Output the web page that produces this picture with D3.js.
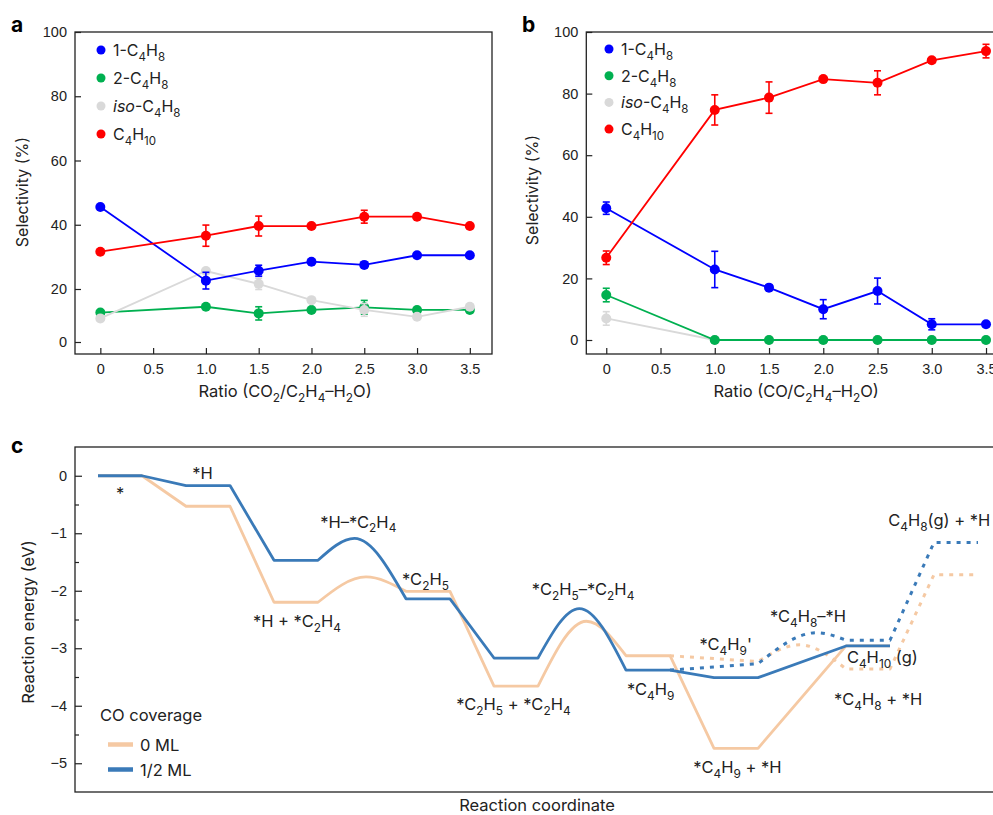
<!doctype html>
<html lang="en">
<head>
<meta charset="utf-8">
<title>Butene / butane selectivity and reaction energy</title>
<script src="https://cdn.jsdelivr.net/npm/d3@7"></script>
<style>
  body { margin: 0; background: #fff; }
  svg { display: block; font-family: Inter, "Liberation Sans", Arial, sans-serif; }
</style>
</head>
<body>
<div id="fig"></div>
<script>
// ---- data: panels a and b (selectivity, %) ----
var ratios = [0, 1.0, 1.5, 2.0, 2.5, 3.0, 3.5];
var ratioTicks = [0, 0.5, 1.0, 1.5, 2.0, 2.5, 3.0, 3.5];
var selTicks = [0, 20, 40, 60, 80, 100];
var seriesNames = ["1-C_4H_8", "2-C_4H_8", "<i>iso</i>-C_4H_8", "C_4H_10"];
var seriesColors = ["#0000ff", "#00b050", "#d9d9d9", "#ff0000"];

// a: CO2 / C2H4-H2O
var aButene1 = [45.5, 22.6, 25.7, 28.5, 27.5, 30.5, 30.5];
var aButene1Err = [0.5, 2.6, 1.7, 0.5, 0.8, 0.5, 0.5];
var aButene2 = [11.1, 13.3, 10.8, 12.1, 13.1, 12.1, 12.1];
var aButene2Err = [0.5, 0.5, 2.5, 0.5, 2.6, 0.5, 0.5];
var aIso = [8.9, 25.6, 21.6, 15.8, 12.1, 9.5, 13.3];
var aIsoErr = [1.1, 0.5, 1.8, 0.5, 2.4, 0.5, 0.5];
var aButane = [31.6, 36.6, 39.6, 39.6, 42.5, 42.5, 39.6];
var aButaneErr = [0.5, 3.3, 3.1, 0.5, 2.0, 0.5, 0.5];

// b: CO / C2H4-H2O
var bButene1 = [42.8, 22.9, 17.0, 10.0, 15.9, 5.1, 5.1];
var bButene1Err = [2.0, 5.9, 0.8, 3.1, 4.2, 1.8, 0.5];
var bButene2 = [14.6, 0, 0, 0, 0, 0, 0];
var bButene2Err = [2.2, 0, 0, 0, 0, 0, 0];
var bIso = [7.0, 0, 0, 0, 0, 0, 0];
var bIsoErr = [2.2, 0, 0, 0, 0, 0, 0];
var bButane = [26.7, 74.7, 78.7, 84.7, 83.5, 90.8, 93.8];
var bButaneErr = [2.2, 4.9, 5.1, 0.6, 3.9, 0.8, 2.2];

// ---- data: panel c (reaction energy, eV, vs reaction coordinate) ----
var rcZero = [0, 1, 2, 3, 4, 5, 6.09, 7, 8, 9, 10, 11.1, 12, 13, 14, 15, 17, 18];
var eZero = [0, 0, -0.53, -0.53, -2.2, -2.2, -1.76, -2.01, -2.01, -3.66, -3.66, -2.53, -3.13, -3.13, -4.74, -4.74, -2.96, -2.96];
var tsZero = [6, 11];
var rcZeroAlt = [13, 15, 15.95, 17, 18, 19, 20];
var eZeroAlt = [-3.13, -3.23, -2.94, -3.36, -3.36, -1.72, -1.72];
var tsZeroAlt = [2];

var rcHalf = [0, 1, 2, 3, 4, 5, 5.83, 7, 8, 9, 10, 10.94, 12, 13, 14, 15, 17, 18];
var eHalf = [0, 0, -0.17, -0.17, -1.47, -1.47, -1.09, -2.14, -2.14, -3.17, -3.17, -2.31, -3.38, -3.38, -3.51, -3.51, -2.96, -2.96];
var tsHalf = [6, 11];
var rcHalfAlt = [13, 15, 16.33, 17, 18, 19, 20];
var eHalfAlt = [-3.38, -3.27, -2.73, -2.86, -2.86, -1.16, -1.16];
var tsHalfAlt = [2];

var energyTicks = [0, -1, -2, -3, -4, -5];
var energyMinor = [-0.5, -1.5, -2.5, -3.5, -4.5];

var stateNames = ["*", "*H", "*H–*C_2H_4", "*C_2H_5", "*H + *C_2H_4", "*C_2H_5–*C_2H_4",
  "C_4H_8(g) + *H", "*C_2H_5 + *C_2H_4", "*C_4H_9", "*C_4H_9'", "*C_4H_8–*H",
  "C_4H_10 (g)", "*C_4H_8 + *H", "*C_4H_9 + *H"];
var stateU = [0.41, 2.14, 5.05, 6.91, 3.52, 9.86, 17.96, 8.14, 12.02, 13.67, 15.27, 17.02, 16.73, 13.53];
var stateE = [-0.4, -0.05, -0.9, -1.9, -2.63, -2.07, -0.87, -4.07, -3.81, -3.03, -2.54, -3.25, -3.98, -5.17];

var coverageNames = ["0 ML", "1/2 ML"];
var coverageColors = ["#f5c9a3", "#3a7ab8"];

// ---- drawing ----
var W = 993, H = 815;
var svg = d3.select("#fig").append("svg").attr("width", W).attr("height", H);
var ink = "#222";

// text with _sub digits and <i>italic</i>
function rich(sel, str, size) {
  var parts = str.split(/(_\d+|<i>[^<]*<\/i>)/).filter(function(s) { return s.length; });
  var sub = false;
  parts.forEach(function(p) {
    if (p[0] === "_") {
      sel.append("tspan").attr("dy", size * 0.3).attr("font-size", size * 0.72).text(p.slice(1));
      sub = true;
    } else {
      var t = sel.append("tspan");
      if (sub) { t.attr("dy", -size * 0.3); sub = false; }
      if (p.indexOf("<i>") === 0) t.attr("font-style", "italic").text(p.slice(3, -4));
      else t.text(p);
    }
  });
  return sel;
}

function selectivityPanel(o) {
  var g = svg.append("g");
  var x = d3.scaleLinear().domain(o.xDomain).range([o.left, o.right]);
  var y = o.y;

  g.append("rect").attr("x", o.left).attr("y", o.top)
    .attr("width", o.right - o.left).attr("height", o.bottom - o.top)
    .attr("fill", "none").attr("stroke", ink).attr("stroke-width", 1.3);

  var xAxis = g.append("g").attr("transform", "translate(0," + o.bottom + ")")
    .call(d3.axisBottom(x).tickValues(ratioTicks).tickSize(-6).tickPadding(10)
      .tickFormat(function(d) { return d === 0 ? "0" : d3.format(".1f")(d); }));
  var yAxis = g.append("g").attr("transform", "translate(" + o.left + ",0)")
    .call(d3.axisLeft(y).tickValues(selTicks).tickSize(-6).tickPadding(8));
  [xAxis, yAxis].forEach(function(a) {
    a.select(".domain").remove();
    a.selectAll("line").attr("stroke", ink).attr("stroke-width", 1.2);
    a.selectAll("text").attr("font-size", 14.5).attr("fill", ink).attr("font-family", null);
  });

  var line = d3.line().x(function(d) { return x(d[0]); }).y(function(d) { return y(d[1]); });

  o.order.forEach(function(k) {
    var s = o.series[k];
    var pts = ratios.map(function(r, i) { return [r, s.values[i], s.err[i]]; });
    var c = seriesColors[k];
    g.append("path").datum(pts).attr("d", line)
      .attr("fill", "none").attr("stroke", c).attr("stroke-width", 1.8);
    var eb = g.append("g").selectAll("g").data(pts).enter().append("g")
      .attr("stroke", c).attr("stroke-width", 1.6);
    eb.append("line").attr("x1", function(d) { return x(d[0]); }).attr("x2", function(d) { return x(d[0]); })
      .attr("y1", function(d) { return y(d[1] - d[2]); }).attr("y2", function(d) { return y(d[1] + d[2]); });
    [-1, 1].forEach(function(sgn) {
      eb.append("line").attr("x1", function(d) { return x(d[0]) - 3.5; }).attr("x2", function(d) { return x(d[0]) + 3.5; })
        .attr("y1", function(d) { return y(d[1] + sgn * d[2]); }).attr("y2", function(d) { return y(d[1] + sgn * d[2]); });
    });
    g.append("g").selectAll("circle").data(pts).enter().append("circle")
      .attr("cx", function(d) { return x(d[0]); }).attr("cy", function(d) { return y(d[1]); })
      .attr("r", 5).attr("fill", c);
  });

  // legend
  seriesNames.forEach(function(n, i) {
    var cy = o.legY + i * o.legStep;
    g.append("circle").attr("cx", o.legX).attr("cy", cy).attr("r", 4.5).attr("fill", seriesColors[i]);
    rich(g.append("text").attr("x", o.legX + 12).attr("y", cy + 6).attr("font-size", 16).attr("fill", ink), n, 16);
  });

  rich(g.append("text").attr("x", (x(0) + x(3.5)) / 2 + o.titleShift).attr("y", 397)
    .attr("text-anchor", "middle").attr("font-size", 16.5).attr("fill", ink), o.xTitle, 16.5);
  g.append("text").attr("transform", "translate(" + o.yTitleX + "," + o.yTitleY + ") rotate(-90)")
    .attr("text-anchor", "middle").attr("font-size", 16).attr("fill", ink).text("Selectivity (%)");
  g.append("text").attr("x", o.labelX).attr("y", 32).attr("font-size", 21).attr("font-weight", "bold")
    .attr("fill", "#000").text(o.label);
}

// panel a: the printed 0 tick sits closer to 20 than the 20-step spacing
var yA = d3.scaleLinear().domain([0, 20, 100]).range([342, 289, 32]);
selectivityPanel({
  left: 75, right: 492, top: 32, bottom: 354, xDomain: [-0.24, 3.71], y: yA,
  series: [
    { values: aButene1, err: aButene1Err }, { values: aButene2, err: aButene2Err },
    { values: aIso, err: aIsoErr }, { values: aButane, err: aButaneErr }
  ],
  order: [1, 2, 0, 3],
  legX: 101, legY: 50, legStep: 28,
  xTitle: "Ratio (CO_2/C_2H_4–H_2O)", titleShift: 0,
  yTitleX: 28, yTitleY: 192, label: "a", labelX: 11
});

var yB = d3.scaleLinear().domain([0, 100]).range([340, 32]);
selectivityPanel({
  left: 586.3, right: 1008.8, top: 32, bottom: 354, xDomain: [-0.184, 3.71], y: yB,
  series: [
    { values: bButene1, err: bButene1Err }, { values: bButene2, err: bButene2Err },
    { values: bIso, err: bIsoErr }, { values: bButane, err: bButaneErr }
  ],
  order: [2, 1, 0, 3],
  legX: 609, legY: 49, legStep: 26.7,
  xTitle: "Ratio (CO/C_2H_4–H_2O)", titleShift: 0,
  yTitleX: 538, yTitleY: 190, label: "b", labelX: 522
});

// ---- panel c ----
(function() {
  var g = svg.append("g");
  var left = 75, top = 447, bottom = 792, right = 1001;
  var x = d3.scaleLinear().domain([0, 20]).range([98, 978]);
  var y = d3.scaleLinear().domain([-5.5, 0.5]).range([bottom, top]);

  g.append("rect").attr("x", left).attr("y", top).attr("width", right - left).attr("height", bottom - top)
    .attr("fill", "none").attr("stroke", ink).attr("stroke-width", 1.3);

  var yAxis = g.append("g").attr("transform", "translate(" + left + ",0)")
    .call(d3.axisLeft(y).tickValues(energyTicks).tickSize(-7).tickPadding(8).tickFormat(d3.format("d")));
  yAxis.select(".domain").remove();
  yAxis.selectAll("line").attr("stroke", ink).attr("stroke-width", 1.2);
  yAxis.selectAll("text").attr("font-size", 14.5).attr("fill", ink).attr("font-family", null);
  var yMinor = g.append("g").attr("transform", "translate(" + left + ",0)")
    .call(d3.axisLeft(y).tickValues(energyMinor).tickSize(-4).tickFormat(""));
  yMinor.select(".domain").remove();
  yMinor.selectAll("line").attr("stroke", ink).attr("stroke-width", 1.2);

  var hump = d3.line().curve(d3.curveMonotoneX);
  function energyPath(us, es, peaks) {
    var d = "M" + x(us[0]) + "," + y(es[0]);
    for (var i = 1; i < us.length; i++) {
      if (peaks.indexOf(i) >= 0) {
        var tri = [i - 1, i, i + 1].map(function(k) { return [x(us[k]), y(es[k])]; });
        d += hump(tri).replace(/^M[^C]*/, "");
        i++;
      } else {
        d += "L" + x(us[i]) + "," + y(es[i]);
      }
    }
    return d;
  }

  function draw(us, es, peaks, color, dotted) {
    var p = g.append("path").attr("d", energyPath(us, es, peaks))
      .attr("fill", "none").attr("stroke", color)
      .attr("stroke-width", dotted ? 3 : 2.8).attr("stroke-linejoin", "round");
    if (dotted) p.attr("stroke-dasharray", "4,6");
  }
  draw(rcZeroAlt, eZeroAlt, tsZeroAlt, coverageColors[0], true);
  draw(rcZero, eZero, tsZero, coverageColors[0], false);
  draw(rcHalfAlt, eHalfAlt, tsHalfAlt, coverageColors[1], true);
  draw(rcHalf, eHalf, tsHalf, coverageColors[1], false);

  stateNames.forEach(function(n, i) {
    rich(g.append("text").attr("x", x(stateU[i])).attr("y", y(stateE[i]))
      .attr("font-size", 16.5).attr("fill", ink), n, 16.5);
  });

  // legend
  g.append("text").attr("x", 100).attr("y", 721).attr("font-size", 16.5).attr("fill", ink).text("CO coverage");
  coverageNames.forEach(function(n, i) {
    var ly = 744.5 + i * 25;
    g.append("line").attr("x1", 108).attr("x2", 133).attr("y1", ly).attr("y2", ly)
      .attr("stroke", coverageColors[i]).attr("stroke-width", 4.5);
    g.append("text").attr("x", 140).attr("y", ly + 6).attr("font-size", 16.5).attr("fill", ink).text(n);
  });

  g.append("text").attr("x", 537).attr("y", 811).attr("text-anchor", "middle")
    .attr("font-size", 16.5).attr("fill", ink).text("Reaction coordinate");
  g.append("text").attr("transform", "translate(34,622) rotate(-90)").attr("text-anchor", "middle")
    .attr("font-size", 16.5).attr("fill", ink).text("Reaction energy (eV)");
  g.append("text").attr("x", 11).attr("y", 453).attr("font-size", 21).attr("font-weight", "bold")
    .attr("fill", "#000").text("c");
})();
</script>
</body>
</html>
